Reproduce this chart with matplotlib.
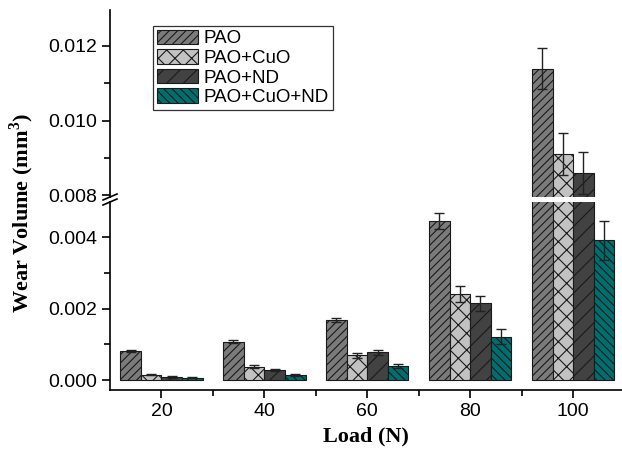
import numpy as np
import matplotlib
matplotlib.use('Agg')
import matplotlib.pyplot as plt
from matplotlib.lines import Line2D
from matplotlib.patches import Rectangle

################################################################################
# data
loads = [20, 40, 60, 80, 100]
series_names = ['PAO', 'PAO+CuO', 'PAO+ND', 'PAO+CuO+ND']
pao = [0.00081, 0.00107, 0.00169, 0.00446, 0.01139]
pao_err = [0.00002, 0.00004, 0.00006, 0.00022, 0.00055]
cuo = [0.00015, 0.00037, 0.00069, 0.00241, 0.00911]
cuo_err = [0.00002, 0.00004, 0.00007, 0.00023, 0.00056]
nd = [0.00008, 0.00027, 0.00078, 0.00215, 0.00860]
nd_err = [0.00002, 0.00003, 0.00007, 0.00022, 0.00056]
cuond = [0.00007, 0.00014, 0.00039, 0.00122, 0.00392]
cuond_err = [0.00001, 0.00003, 0.00006, 0.00022, 0.00055]
################################################################################
plt.rcParams['font.family'] = ['Liberation Sans', 'DejaVu Sans']
plt.rcParams['hatch.linewidth'] = 0.8
plt.rcParams['mathtext.fontset'] = 'custom'
plt.rcParams['mathtext.bf'] = 'Liberation Serif:bold'
plt.rcParams['mathtext.rm'] = 'Liberation Serif:bold'

colors = ['#7b7b7b', '#c2c2c2', '#424242', '#006e6e']
hatches = ['////', 'xx', '//', '\\\\\\\\']
values = [pao, cuo, nd, cuond]
errors = [pao_err, cuo_err, nd_err, cuond_err]
width = 4
offsets = [-6, -2, 2, 6]

W, H = 622, 455
fig = plt.figure(figsize=(W / 100, H / 100), dpi=100)
x0 = 110 / W
ax_lo = fig.add_axes([x0, 65 / H, 1.0 - x0, (390 - 199) / H])
ax_hi = fig.add_axes([x0, (H - 199) / H, 1.0 - x0, (199 - 10) / H])

x = np.array(loads, dtype=float)
handles = []
for ax in (ax_lo, ax_hi):
    for i in range(4):
        b = ax.bar(x + offsets[i], values[i], width, color=colors[i],
                   edgecolor='#1a1a1a', linewidth=0.8, hatch=hatches[i],
                   yerr=errors[i], capsize=3.5,
                   error_kw=dict(ecolor='#222222', elinewidth=1.0, capthick=1.0))
        if ax is ax_lo:
            handles.append(b)

ax_lo.set_ylim(-0.00028, 0.00508)
ax_hi.set_ylim(0.0079, 0.01296)
for ax in (ax_lo, ax_hi):
    ax.set_xlim(10, 109.5)
    ax.spines['right'].set_visible(False)
    ax.spines['top'].set_visible(False)
    ax.tick_params(axis='both', which='major', direction='out', length=6,
                   width=1.2, labelsize=14)
    ax.tick_params(axis='both', which='minor', direction='out', length=4,
                   width=1.2)
    ax.spines['left'].set_linewidth(1.2)
    ax.spines['bottom'].set_linewidth(1.2)
    ax.patch.set_alpha(0)

ax_lo.set_yticks([0.000, 0.002, 0.004])
ax_lo.set_yticks([0.001, 0.003], minor=True)
ax_lo.set_yticklabels(['0.000', '0.002', '0.004'])
ax_lo.set_xticks(loads)
ax_lo.set_xticks([30, 50, 70, 90], minor=True)
ax_lo.set_xticklabels([str(v) for v in loads])

ax_hi.set_yticks([0.008, 0.010, 0.012])
ax_hi.set_yticks([0.009, 0.011], minor=True)
ax_hi.set_yticklabels(['0.008', '0.010', '0.012'])
ax_hi.spines['bottom'].set_visible(False)
ax_hi.tick_params(axis='x', which='both', bottom=False, labelbottom=False)

# white gap through the bars at the break
fig.patches.append(Rectangle((111 / W, (H - 202) / H), 1.0, 5 / H,
                             transform=fig.transFigure, facecolor='white',
                             edgecolor='none', zorder=10))
# break marks on the y axis
for yb in (197, 202):
    fig.lines.append(Line2D([103 / W, 117 / W], [(H - yb - 3) / H, (H - yb + 3) / H],
                            transform=fig.transFigure, color='black', lw=1.2, zorder=11))
fig.patches.append(Rectangle((108.5 / W, (H - 201) / H), 3 / W, 3 / H,
                             transform=fig.transFigure, facecolor='white',
                             edgecolor='none', zorder=10.5))

leg = fig.legend(handles, series_names, loc='upper left',
                 bbox_to_anchor=(153 / W, 1 - 26 / H), fontsize=13.5,
                 frameon=True, fancybox=False, edgecolor='black',
                 handlelength=2.2, handleheight=0.8, labelspacing=0.1,
                 handletextpad=0.3, borderpad=0.2, borderaxespad=0)
leg.get_frame().set_linewidth(0.9)

fig.text(22 / W, (H - 213) / H, r'Wear Volume (mm$^{\mathbf{3}}$)', rotation=90,
         ha='center', va='center', fontsize=16, fontweight='bold',
         family='Liberation Serif')
fig.text(366 / W, (H - 436) / H, 'Load (N)', ha='center', va='center',
         fontsize=16, fontweight='bold', family='Liberation Serif')

fig.savefig('out.png', dpi=100)
